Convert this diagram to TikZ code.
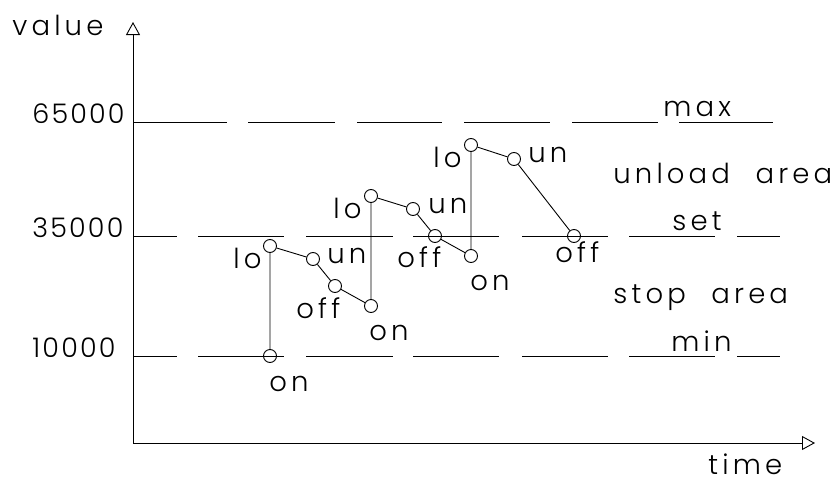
\documentclass[tikz,border=0pt]{standalone}
\usepackage{fontspec}
\setmainfont{Poppins Light}[LetterSpace=15,WordSpace=2.2]
\newfontfamily\numfont{Poppins Light}[LetterSpace=8]
\usetikzlibrary{arrows.meta}

\tikzset{
  pt/.style={circle,draw,minimum size=13pt,inner sep=0pt},
  txt/.style={anchor=base west,inner sep=0pt,font=\fontsize{27.5}{30}\selectfont},
  num/.style={txt,font=\fontsize{27}{30}\selectfont\numfont},
  axis/.style={-{Triangle[open,length=13pt,width=14pt]}}
}

\begin{document}
\begin{tikzpicture}[x=1pt,y=-1pt,line width=0.9pt]
		\useasboundingbox (0,0) rectangle (836,477);
		% axes
		\coordinate (o) at (133,443);
		\coordinate (ytop) at (133,22);
		\coordinate (xend) at (815,443);
		\draw[axis] (o) -- (ytop);
		\draw[axis] (o) -- (xend);
		% limit lines
		\foreach \a/\b in {133/227,248/335,357/442,464/550,572/658,679/773}
			\draw (\a,122) -- (\b,122);
		\foreach \y in {236,356}
			\foreach \a/\b in {133/177,198/284,306/393,413/499,522/608,629/715,737/780}
				\draw (\a,\y) -- (\b,\y);
		% texts
		\node[txt] (value) at (12,35) {value};
		\node[txt] (time) at (708,474) {time};
		\node[num] (v65) at (32,123) {65000};
		\node[num] (v35) at (32,237) {35000};
		\node[num] (v10) at (32,357) {10000};
		\node[txt] (max) at (663,116) {max};
		\node[txt] (set) at (672,230) {set};
		\node[txt] (min) at (671,351) {min};
		\node[txt] (unload) at (613,183) {unload area};
		\node[txt] (stop) at (613,303) {stop area};
		% switching points
		\node[pt] (on1) at (270,356) {};
		\node[pt] (lo1) at (270,246) {};
		\node[pt] (un1) at (313,259) {};
		\node[pt] (off1) at (335,286) {};
		\node[pt] (on2) at (371,306) {};
		\node[pt] (lo2) at (371,196) {};
		\node[pt] (un2) at (413,209) {};
		\node[pt] (off2) at (435,236) {};
		\node[pt] (on3) at (471,256) {};
		\node[pt] (lo3) at (471,145) {};
		\node[pt] (un3) at (514,159) {};
		\node[pt] (off3) at (574,236) {};
		\node[txt] (Lon1) at (269,391) {on};
		\node[txt] (Llo1) at (233,268) {lo};
		\node[txt] (Lun1) at (327,263) {un};
		\node[txt] (Loff1) at (296,318) {off};
		\node[txt] (Lon2) at (369,340) {on};
		\node[txt] (Llo2) at (333,218) {lo};
		\node[txt] (Lun2) at (428,213) {un};
		\node[txt] (Loff2) at (397,267) {off};
		\node[txt] (Lon3) at (470,290) {on};
		\node[txt] (Llo3) at (433,167) {lo};
		\node[txt] (Lun3) at (528,162) {un};
		\node[txt] (Loff3) at (555,262) {off};
		\draw (on1) -- (lo1) -- (un1) -- (off1) -- (on2) -- (lo2) -- (un2) -- (off2)
			-- (on3) -- (lo3) -- (un3) -- (off3);
	\end{tikzpicture}
\end{document}
